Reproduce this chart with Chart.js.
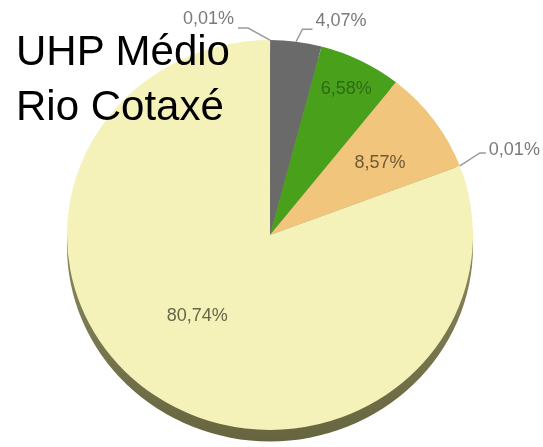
<!DOCTYPE html>
<html>
<head>
<meta charset="utf-8">
<script src="https://cdn.jsdelivr.net/npm/chart.js@4"></script>
<style>
  body { margin: 0; background: #fff; }
  #wrap { position: relative; width: 543px; height: 447px; }
  #titulo {
    position: absolute; left: 16px; top: 23px;
    font-family: "Liberation Sans", Arial, sans-serif;
    font-size: 42px; line-height: 55px; color: #000;
  }
</style>
</head>
<body>
<div id="wrap">
  <canvas id="graph_uso" width="543" height="447"></canvas>
  <div id="titulo">UHP Médio<br>Rio Cotaxé</div>
</div>
<script>
// dados (%), sentido horário a partir do topo
var categorias = ["Classe 1", "Classe 2", "Classe 3", "Classe 4", "Classe 5", "Classe 6"];
var valores = [0.01, 4.07, 6.58, 8.57, 0.01, 80.74];
var cores = ["#3366cc", "#6a6a6a", "#49a11b", "#f2c57d", "#dc3912", "#f4f2b9"];

var squash = 0.96; // leve achatamento (efeito 3D)

function fmt(v) {
    return v.toFixed(2).replace(".", ",") + "%";
}

// rótulos dentro das fatias
var internos = [
    { i: 2, f: 0.84, shift: 0, color: "#2f6a16" },
    { i: 3, f: 0.655, shift: 2, color: "#6f5a33" },
    { i: 5, f: 0.55, shift: 6, color: "#66664a" }
];
// rótulos fora, com linha guia
var externos = [
    { i: 0, dx: -22, dy: -12, h: -10, ty: -9 },
    { i: 1, dx: 6.5, dy: -12.5, h: 10, ty: -8 },
    { i: 4, dx: 20, dy: -13, h: 6, ty: -3 }
];

var pieExtras = {
    id: "pieExtras",
    beforeDatasetsDraw: function (chart) {
        var arc = chart.getDatasetMeta(0).data[0];
        var ctx = chart.ctx;
        ctx.save();
        ctx.translate(arc.x, arc.y);
        ctx.scale(1, squash);
        ctx.translate(-arc.x, -arc.y);
        // sombra
        var g = ctx.createLinearGradient(0, arc.y, 0, arc.y + arc.outerRadius + 12);
        g.addColorStop(0, "#8a8960");
        g.addColorStop(1, "#66653f");
        ctx.fillStyle = g;
        ctx.beginPath();
        ctx.arc(arc.x, arc.y + 12, arc.outerRadius, 0, Math.PI * 2);
        ctx.fill();
    },
    afterDatasetsDraw: function (chart) {
        var ctx = chart.ctx;
        ctx.restore();
        var arcs = chart.getDatasetMeta(0).data;
        var cx = arcs[0].x, cy = arcs[0].y, r = arcs[0].outerRadius;
        ctx.save();
        ctx.font = "18px 'Liberation Sans', Arial, sans-serif";
        ctx.textBaseline = "middle";

        internos.forEach(function (o) {
            var a = arcs[o.i];
            var mid = (a.startAngle + a.endAngle) / 2 + o.shift * Math.PI / 180;
            var x = cx + Math.cos(mid) * r * o.f;
            var y = cy + Math.sin(mid) * r * o.f * squash;
            ctx.fillStyle = o.color;
            ctx.textAlign = "center";
            ctx.fillText(fmt(valores[o.i]), x, y);
        });

        externos.forEach(function (o) {
            var a = arcs[o.i];
            var mid = (a.startAngle + a.endAngle) / 2;
            var x0 = cx + Math.cos(mid) * r;
            var y0 = cy + Math.sin(mid) * r * squash;
            var x1 = x0 + o.dx, y1 = y0 + o.dy, x2 = x1 + o.h;
            ctx.strokeStyle = "#9a9a9a";
            ctx.lineWidth = 1.5;
            ctx.beginPath();
            ctx.moveTo(x0, y0);
            ctx.lineTo(x1, y1);
            ctx.lineTo(x2, y1);
            ctx.stroke();
            ctx.fillStyle = "#7a7a7a";
            ctx.textAlign = o.h < 0 ? "right" : "left";
            ctx.fillText(fmt(valores[o.i]), x2 + (o.h < 0 ? -4 : 3), y1 + o.ty);
        });
        ctx.restore();
    }
};

var ctx = document.getElementById("graph_uso");

var myChart_uso = new Chart(ctx, {
    type: "pie",
    data: {
        labels: categorias,
        datasets: [{
            backgroundColor: cores,
            borderWidth: 0,
            data: valores
        }]
    },
    options: {
        responsive: false,
        animation: false,
        plugins: {
            legend: { display: false },
            tooltip: { enabled: false }
        },
        layout: {
            padding: { left: 67, right: 70, top: 32, bottom: 9 }
        }
    },
    plugins: [pieExtras]
});
</script>
</body>
</html>
